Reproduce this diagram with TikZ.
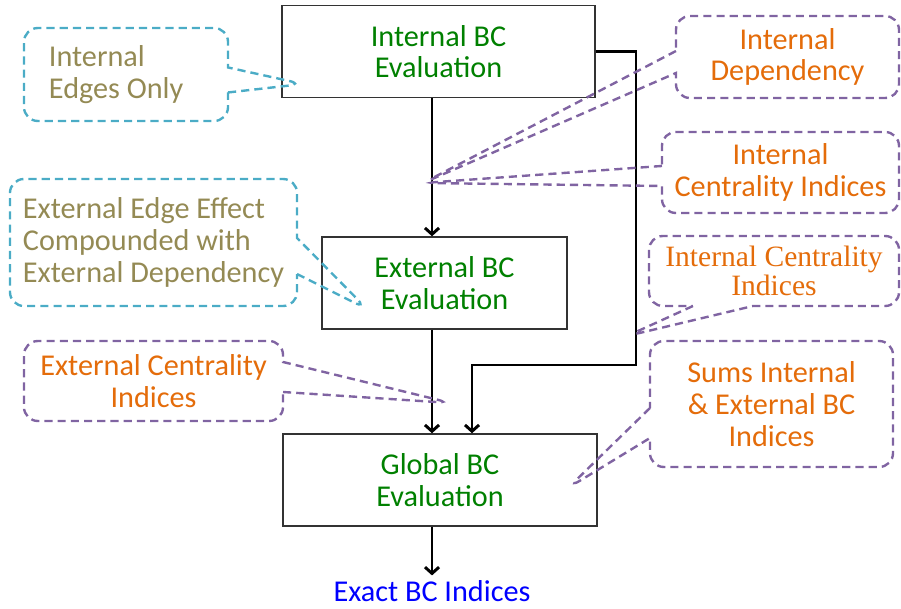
\documentclass[tikz,border=0pt]{standalone}
\usepackage{fontspec}
\setmainfont{Carlito}
\newfontfamily\cambria{Liberation Serif}
\usepackage{xcolor}
\usetikzlibrary{positioning, shapes.callouts, arrows.meta}

\definecolor{bcgreen}{RGB}{0,128,0}
\definecolor{bcblue}{RGB}{0,0,255}
\definecolor{bcorange}{RGB}{228,108,10}
\definecolor{bcolive}{RGB}{148,138,84}
\definecolor{bccyan}{RGB}{75,172,198}
\definecolor{bcpurple}{RGB}{128,100,162}

\tikzset{
    stage/.style={rectangle, draw=black!80, line width=1pt, align=center, text=bcgreen, minimum height=2.3cm, font=\fontsize{21.5}{22.5}\selectfont},
    flow/.style={-{Straight Barb[length=4.5pt, width=10pt]}, line width=2.1pt},
    note/.style={rectangle callout, rounded corners=0.35cm, line width=1.7pt, dash pattern=on 5.8pt off 3.6pt, font=\fontsize{21.5}{22.5}\selectfont},
    cyannote/.style={note, draw=bccyan, text=bcolive, align=flush left},
    purplenote/.style={note, draw=bcpurple, text=bcorange, align=center}
}

\begin{document}
\begin{tikzpicture}[x=0.025cm, y=-0.025cm]
    \useasboundingbox (0, 0) rectangle (901, 609);

    \node[stage, minimum width=7.825cm] (ibc) at (438.5, 51.5) {Internal BC\\Evaluation};
    \node[stage, minimum width=6.125cm] (ebc) at (444.5, 283) {External BC\\Evaluation};
    \node[stage, minimum width=7.85cm] (gbc) at (440, 480) {Global BC\\Evaluation};
    \node[text=bcblue, font=\fontsize{21.5}{22.5}\selectfont] (exact) at (432, 591) {Exact BC Indices};

    \coordinate (bend) at (636, 365);
    \coordinate (tipi) at (423, 183);

    \draw[flow] (ibc.south -| exact) -- (ebc.north -| exact);
    \draw[flow] (ebc.south -| exact) -- (gbc.north -| exact);
    \draw[flow] (gbc.south -| exact) -- (exact.north);
    \draw[flow] (ibc.east) -| (bend) -| ([xshift=0.8cm]gbc.north);

    \node[cyannote, minimum width=5.1cm, minimum height=2.325cm, text width=3.85cm, callout absolute pointer={(303, 84)}, callout pointer width=0.625cm] (edges) at (126, 74.5) {Internal\\Edges Only};
    \node[cyannote, minimum width=7.175cm, minimum height=3.175cm, callout absolute pointer={(367, 309)}, callout pointer width=0.9cm] (effect) at (153.5, 242.5) {External Edge Effect\\Compounded with\\External Dependency};
    \node[purplenote, minimum width=5.575cm, minimum height=2.05cm, callout absolute pointer={(tipi)}, callout pointer width=0.55cm] (idep) at (787.5, 57) {Internal\\Dependency};
    \node[purplenote, minimum width=5.925cm, minimum height=2.025cm, callout absolute pointer={(tipi)}, callout pointer width=0.5cm] (ici) at (780.5, 172.5) {Internal\\Centrality Indices};
    \node[purplenote, minimum width=6.25cm, minimum height=1.75cm, font=\cambria\fontsize{21}{19}\selectfont, callout absolute pointer={(627, 336)}, callout pointer width=1.5cm] (icis) at (774, 271) {Internal Centrality\\Indices};
    \node[purplenote, minimum width=6.475cm, minimum height=2cm, callout absolute pointer={(451, 403)}, callout pointer width=0.75cm] (eci) at (153.5, 381) {External Centrality\\Indices};
    \node[purplenote, minimum width=6.075cm, minimum height=3.15cm, callout absolute pointer={(568, 488)}, callout pointer width=0.75cm] (sums) at (771.5, 404) {Sums Internal\\\& External BC\\Indices};
\end{tikzpicture}
\end{document}
